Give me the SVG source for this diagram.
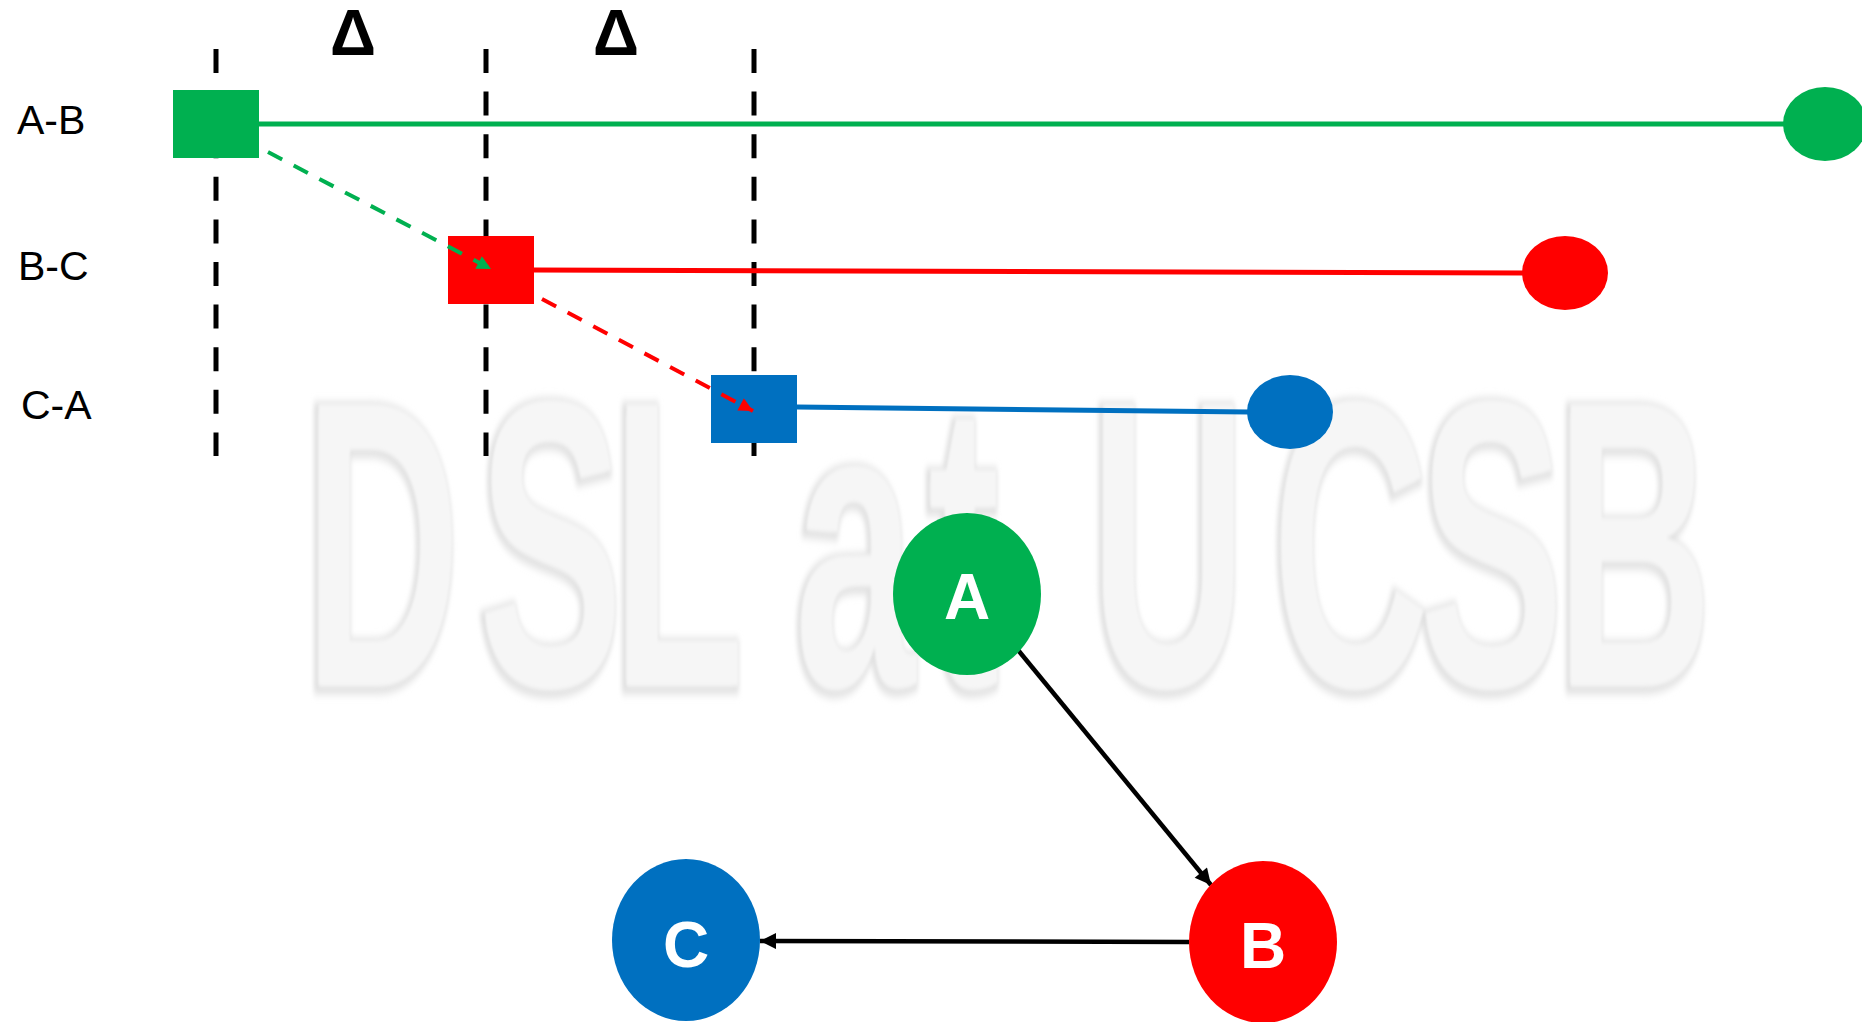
<svg xmlns="http://www.w3.org/2000/svg" width="1862" height="1022" viewBox="0 0 1862 1022">
<style>
.lbl{font-family:"Liberation Sans",Arial,sans-serif;font-size:41px;fill:#000}
.delta{font-family:"Liberation Sans",Arial,sans-serif;font-size:64px;font-weight:bold;fill:#000}
.nlbl{font-family:"Liberation Sans",Arial,sans-serif;font-size:64px;font-weight:bold;fill:#fff;text-anchor:middle}
.wm{font-family:"Liberation Sans",Arial,sans-serif;font-size:410px;font-weight:bold}
.vdash{stroke:#000;stroke-width:5;stroke-dasharray:24 18.6;fill:none}
</style>
<defs>
<filter id="soft" x="-5%" y="-5%" width="110%" height="110%">
<feGaussianBlur stdDeviation="4"/>
</filter>
<filter id="soft2" x="-5%" y="-5%" width="110%" height="110%">
<feGaussianBlur stdDeviation="2"/>
</filter>
<marker id="mg" viewBox="0 0 10 10" refX="10" refY="5" markerWidth="16" markerHeight="14" markerUnits="userSpaceOnUse" orient="auto"><path d="M0,0 L10,5 L0,10 z" fill="#00B050"/></marker>
<marker id="mr" viewBox="0 0 10 10" refX="10" refY="5" markerWidth="16" markerHeight="14" markerUnits="userSpaceOnUse" orient="auto"><path d="M0,0 L10,5 L0,10 z" fill="#FF0000"/></marker>
<marker id="mk" viewBox="0 0 10 10" refX="10" refY="5" markerWidth="20" markerHeight="16" markerUnits="userSpaceOnUse" orient="auto"><path d="M0,0 L10,5 L0,10 z" fill="#000"/></marker>
</defs>
<rect width="1862" height="1022" fill="#fff"/>
<g id="watermark">
<g transform="scale(0.53,1)">
<text class="wm" x="570 899 1151 1400 1496 1747 1950 2053 2397 2674 2932" y="689" fill="#f2f2f2" stroke="#e0e0e0" stroke-width="10" filter="url(#soft)">DSL at UCSB</text>
<text class="wm" x="574 903 1155 1404 1500 1751 1954 2057 2401 2678 2936" y="686" fill="#f6f6f6" filter="url(#soft2)">DSL at UCSB</text>
</g>
</g>
<g id="guides">
<line class="vdash" x1="216" y1="49" x2="216" y2="456"/>
<line class="vdash" x1="486" y1="49" x2="486" y2="456"/>
<line class="vdash" x1="754" y1="49" x2="754" y2="456"/>
<text class="delta" x="330" y="55">Δ</text>
<text class="delta" x="593" y="55">Δ</text>
</g>
<g id="row-labels">
<text class="lbl" x="17" y="134">A-B</text>
<text class="lbl" x="18" y="280">B-C</text>
<text class="lbl" x="21" y="419">C-A</text>
</g>
<g id="timelines">
<line x1="259" y1="124" x2="1786" y2="124" stroke="#00B050" stroke-width="5"/>
<line x1="534" y1="270" x2="1524" y2="273" stroke="#FF0000" stroke-width="5"/>
<line x1="797" y1="407" x2="1249" y2="412" stroke="#0070C0" stroke-width="5"/>
</g>
<g id="seg-AB-start"><rect x="173" y="90" width="86" height="68" fill="#00B050"/></g>
<g id="seg-AB-end"><ellipse cx="1825" cy="124" rx="42" ry="37" fill="#00B050"/></g>
<g id="seg-BC-start"><rect x="448" y="236" width="86" height="68" fill="#FF0000"/></g>
<g id="seg-BC-end"><ellipse cx="1565" cy="273" rx="43" ry="37" fill="#FF0000"/></g>
<g id="seg-CA-start"><rect x="711" y="375" width="86" height="68" fill="#0070C0"/></g>
<g id="seg-CA-end"><ellipse cx="1290" cy="412" rx="43" ry="37" fill="#0070C0"/></g>
<g id="connectors">
<line x1="268" y1="152" x2="491" y2="269" stroke="#00B050" stroke-width="4" stroke-dasharray="16 13" marker-end="url(#mg)"/>
<line x1="542" y1="299" x2="753" y2="411" stroke="#FF0000" stroke-width="4" stroke-dasharray="16 13" marker-end="url(#mr)"/>
<line x1="1018" y1="650" x2="1211" y2="885" stroke="#000" stroke-width="4.5" marker-end="url(#mk)"/>
<line x1="1189" y1="942" x2="760" y2="941" stroke="#000" stroke-width="4.5" marker-end="url(#mk)"/>
</g>
<g id="node-A"><ellipse cx="967" cy="594" rx="74" ry="81" fill="#00B050"/><text class="nlbl" x="967" y="619">A</text></g>
<g id="node-B"><ellipse cx="1263" cy="942" rx="74" ry="81" fill="#FF0000"/><text class="nlbl" x="1263" y="968">B</text></g>
<g id="node-C"><ellipse cx="686" cy="940" rx="74" ry="81" fill="#0070C0"/><text class="nlbl" x="686" y="967">C</text></g>
</svg>
